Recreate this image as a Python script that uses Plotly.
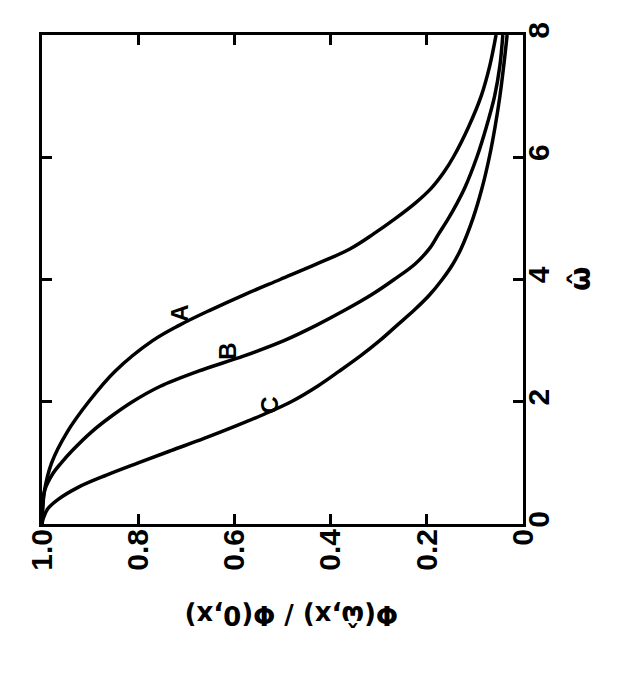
import plotly.graph_objects as go

# Curve A: omega-hat values and Phi(omega,x)/Phi(0,x)
omega_A = [0.0, 0.25, 0.5, 1.0, 1.5, 2.0, 2.5, 3.0, 3.25, 3.5, 3.75, 4.0, 4.25, 4.5, 4.75,
           5.0, 5.25, 5.5, 5.75, 6.0, 6.5, 7.0, 7.5, 8.0]
phi_A = [1.0, 0.999, 0.996, 0.980, 0.948, 0.903, 0.848, 0.770, 0.715, 0.650, 0.580, 0.505, 0.430, 0.360, 0.310,
         0.265, 0.224, 0.190, 0.165, 0.145, 0.113, 0.087, 0.069, 0.056]

omega_B = [0.0, 0.3, 0.56, 0.83, 1.0, 1.21, 1.5, 1.75, 2.0, 2.25, 2.5, 2.75, 3.0, 3.25, 3.5, 3.75,
           4.0, 4.25, 4.5, 4.75, 5.0, 5.25, 5.5, 6.0, 6.5, 7.0, 7.5, 8.0]
phi_B = [1.0, 0.998, 0.994, 0.977, 0.960, 0.936, 0.898, 0.858, 0.812, 0.755, 0.675, 0.580, 0.497, 0.430, 0.370, 0.315,
         0.268, 0.225, 0.195, 0.175, 0.155, 0.137, 0.121, 0.096, 0.076, 0.059, 0.048, 0.042]

omega_C = [0.0, 0.1, 0.25, 0.4, 0.6, 0.8, 1.0, 1.2, 1.4, 1.6, 1.8, 2.0, 2.25, 2.5, 2.75, 3.0,
           3.25, 3.5, 3.75, 4.0, 4.25, 4.5, 5.0, 5.5, 6.0, 6.5, 7.0, 7.5, 8.0]
phi_C = [1.0, 0.997, 0.988, 0.967, 0.925, 0.866, 0.800, 0.732, 0.663, 0.598, 0.537, 0.482, 0.428, 0.382, 0.338, 0.298,
         0.262, 0.226, 0.194, 0.168, 0.146, 0.129, 0.104, 0.085, 0.070, 0.058, 0.048, 0.040, 0.033]

curve_labels = ["A", "B", "C"]
label_phi = [0.714, 0.615, 0.526]
label_omega = [3.45, 2.82, 1.95]

phi_ticks = [1.0, 0.8, 0.6, 0.4, 0.2, 0.0]
phi_ticktext = ["1.0", "0.8", "0.6", "0.4", "0.2", "0"]
omega_ticks = [0, 2, 4, 6, 8]
omega_ticktext = ["0", "2", "4", "6", "8"]

FONT = "Liberation Sans"
FONT2 = "DejaVu Sans"

# the page body has an 8px default margin, so the figure is placed at (8, 8)
OFF = 8
W, H = 624 - OFF, 692 - OFF
L, R, T, B = 42 - OFF, 101, 35 - OFF, 168
PW, PH = W - L - R, H - T - B


def px_to_paper(px, py):
    return (px - OFF - L) / PW, (H - B - (py - OFF)) / PH


fig = go.Figure()
for om, ph in [(omega_A, phi_A), (omega_B, phi_B), (omega_C, phi_C)]:
    fig.add_trace(go.Scatter(x=ph, y=om, mode="lines",
                             line=dict(color="black", width=3.5, shape="spline", smoothing=1.0),
                             showlegend=False, hoverinfo="skip"))

for t, lx, ly in zip(curve_labels, label_phi, label_omega):
    fig.add_annotation(x=lx, y=ly, xref="x", yref="y", text=t, showarrow=False, textangle=-90,
                       xanchor="center", yanchor="middle",
                       font=dict(family=FONT, size=24, color="black", weight="bold"))

# axis titles (the whole figure is rotated 90 degrees counter-clockwise)
tx, ty = px_to_paper(292, 615)
fig.add_annotation(x=tx, y=ty, xref="paper", yref="paper", text="Φ(ω̂,x) / Φ(0,x)", showarrow=False,
                   textangle=180, xanchor="center", yanchor="middle",
                   font=dict(family=FONT2, size=26, color="black", weight="bold"))
wx, wy = px_to_paper(580, 279)
fig.add_annotation(x=wx, y=wy, xref="paper", yref="paper", text="ω̂", showarrow=False,
                   textangle=-90, xanchor="center", yanchor="middle",
                   font=dict(family=FONT2, size=28, color="black", weight="bold"))

fig.update_layout(
    width=W, height=H, autosize=False,
    margin=dict(l=L, r=R, t=T, b=B, autoexpand=False),
    paper_bgcolor="white", plot_bgcolor="white",
    xaxis=dict(range=[1.0, 0.0], tickvals=phi_ticks, ticktext=phi_ticktext, ticks="inside",
               ticklen=10, tickwidth=3, tickcolor="black", showline=True, linewidth=3, linecolor="black",
               mirror="ticks", showgrid=False, zeroline=False, tickangle=-90, ticklabelstandoff=-10,
               automargin=False,
               tickfont=dict(family=FONT, size=30, color="black", weight="bold")),
    yaxis=dict(range=[0, 8], tickvals=omega_ticks, ticktext=omega_ticktext, side="right", ticks="inside",
               ticklen=10, tickwidth=3, tickcolor="black", showline=True, linewidth=3, linecolor="black",
               mirror="ticks", showgrid=False, zeroline=False, tickangle=-90, ticklabelstandoff=-13,
               automargin=False,
               tickfont=dict(family=FONT, size=30, color="black", weight="bold")),
)

fig.write_html("out.html")
